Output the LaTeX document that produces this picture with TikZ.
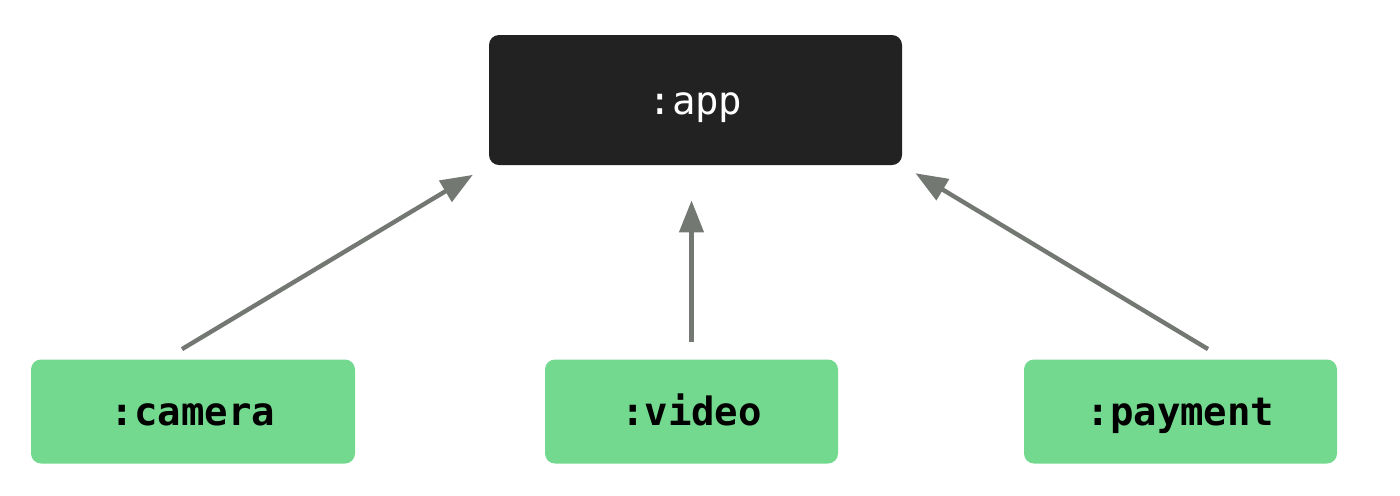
\documentclass[tikz,border=0pt]{standalone}
\usepackage{fontspec}
\setmonofont{DejaVu Sans Mono}
\usetikzlibrary{arrows.meta}
\definecolor{appgray}{HTML}{222222}
\definecolor{modgreen}{HTML}{73D98E}
\definecolor{arrowgray}{HTML}{737873}
\begin{document}
\begin{tikzpicture}[x=0.5pt,y=-0.5pt]
 \useasboundingbox (0,0) rectangle (1400,495);
 \tikzstyle{every node} = [rounded corners=5pt,inner sep=0pt,minimum height=52pt,
   text height=14pt,text depth=0pt,font=\ttfamily\bfseries\fontsize{19.5}{22}\selectfont]
 \tikzstyle{module} = [fill=modgreen,text=black]
 \tikzstyle{dep} = [draw=arrowgray,line width=2.2pt,-{Triangle[length=16pt,width=12pt]}]
 \node[fill=appgray,text=white,minimum width=206.5pt,minimum height=65pt,
   font=\ttfamily\fontsize{19.5}{22}\selectfont] (app) at (695.5,100) {:app};
 \node[module,minimum width=162pt] (camera) at (193,411.5) {:camera};
 \node[module,minimum width=146.5pt] (video) at (691.5,411.5) {:video};
 \node[module,minimum width=156.5pt] (payment) at (1180.5,411.5) {:payment};
 \draw[dep,shorten >=9.2pt] ([xshift=-5.5pt,yshift=5pt]camera.north) -- (app.south west);
 \draw[dep,shorten >=17.5pt] ([yshift=8.5pt]video.north) -- (video.north |- app.south);
 \draw[dep,shorten >=7.6pt] ([xshift=13.75pt,yshift=5pt]payment.north) -- (app.south east);
\end{tikzpicture}
\end{document}
